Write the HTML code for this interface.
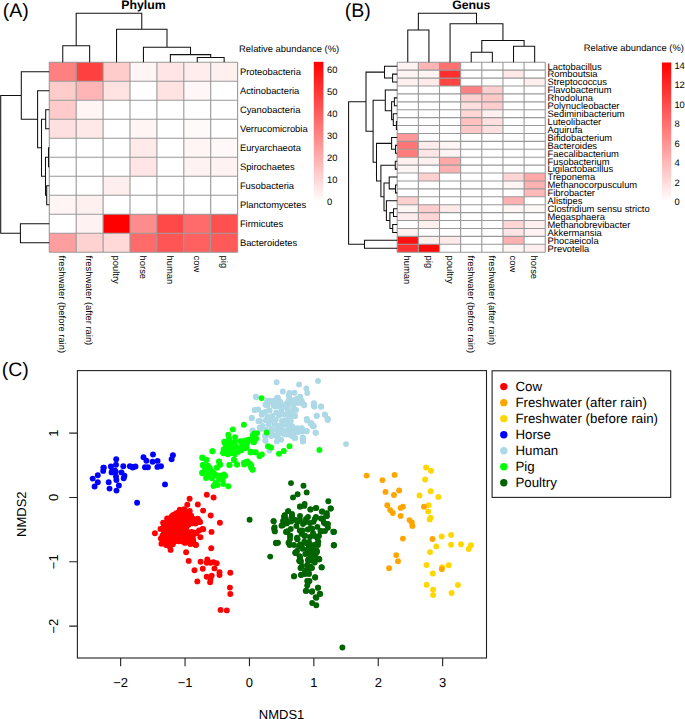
<!DOCTYPE html>
<html><head><meta charset="utf-8"><style>
html,body{margin:0;padding:0;background:#fff;width:685px;height:719px;overflow:hidden}
svg{display:block;text-rendering:geometricPrecision}
</style></head><body>
<svg width="685" height="719" viewBox="0 0 685 719"><g font-family='"Liberation Sans", sans-serif' fill="#000"><text x="2.7" y="16.9" font-size="19.5">(A)</text><text x="344.7" y="16.9" font-size="19.5">(B)</text><text x="1.8" y="375.6" font-size="19.5">(C)</text><text x="143.4" y="8.8" font-size="12.3" font-weight="bold" text-anchor="middle">Phylum</text><text x="471.3" y="8.8" font-size="12.3" font-weight="bold" text-anchor="middle">Genus</text><text x="239.1" y="51.9" font-size="9.38">Relative abundance (%)</text><text x="583.8" y="51.4" font-size="9.38">Relative abundance (%)</text><rect x="49.3" y="62.2" width="26.9" height="19" fill="#FF8080"/><rect x="76.2" y="62.2" width="26.9" height="19" fill="#FF4040"/><rect x="103.1" y="62.2" width="26.9" height="19" fill="#FFCCCC"/><rect x="130" y="62.2" width="26.9" height="19" fill="#FFF5F5"/><rect x="156.9" y="62.2" width="26.9" height="19" fill="#FFE5E5"/><rect x="183.8" y="62.2" width="26.9" height="19" fill="#FFEDED"/><rect x="210.7" y="62.2" width="26.9" height="19" fill="#FFF0F0"/><rect x="49.3" y="81.2" width="26.9" height="19" fill="#FFCCCC"/><rect x="76.2" y="81.2" width="26.9" height="19" fill="#FFB5B5"/><rect x="103.1" y="81.2" width="26.9" height="19" fill="#FFE2E2"/><rect x="130" y="81.2" width="26.9" height="19" fill="#FFFFFF"/><rect x="156.9" y="81.2" width="26.9" height="19" fill="#FFE2E2"/><rect x="183.8" y="81.2" width="26.9" height="19" fill="#FFF7F7"/><rect x="210.7" y="81.2" width="26.9" height="19" fill="#FFFFFF"/><rect x="49.3" y="100.2" width="26.9" height="19" fill="#FFCACA"/><rect x="76.2" y="100.2" width="26.9" height="19" fill="#FFF5F5"/><rect x="103.1" y="100.2" width="26.9" height="19" fill="#FFFFFF"/><rect x="130" y="100.2" width="26.9" height="19" fill="#FFFFFF"/><rect x="156.9" y="100.2" width="26.9" height="19" fill="#FFFFFF"/><rect x="183.8" y="100.2" width="26.9" height="19" fill="#FFFFFF"/><rect x="210.7" y="100.2" width="26.9" height="19" fill="#FFFFFF"/><rect x="49.3" y="119.2" width="26.9" height="19" fill="#FFE0E0"/><rect x="76.2" y="119.2" width="26.9" height="19" fill="#FFE8E8"/><rect x="103.1" y="119.2" width="26.9" height="19" fill="#FFFFFF"/><rect x="130" y="119.2" width="26.9" height="19" fill="#FFF5F5"/><rect x="156.9" y="119.2" width="26.9" height="19" fill="#FFFFFF"/><rect x="183.8" y="119.2" width="26.9" height="19" fill="#FFFAFA"/><rect x="210.7" y="119.2" width="26.9" height="19" fill="#FFFFFF"/><rect x="49.3" y="138.2" width="26.9" height="19" fill="#FFFFFF"/><rect x="76.2" y="138.2" width="26.9" height="19" fill="#FFFFFF"/><rect x="103.1" y="138.2" width="26.9" height="19" fill="#FFFFFF"/><rect x="130" y="138.2" width="26.9" height="19" fill="#FFEAEA"/><rect x="156.9" y="138.2" width="26.9" height="19" fill="#FFFFFF"/><rect x="183.8" y="138.2" width="26.9" height="19" fill="#FFF5F5"/><rect x="210.7" y="138.2" width="26.9" height="19" fill="#FFF8F8"/><rect x="49.3" y="157.2" width="26.9" height="19" fill="#FFFFFF"/><rect x="76.2" y="157.2" width="26.9" height="19" fill="#FFFFFF"/><rect x="103.1" y="157.2" width="26.9" height="19" fill="#FFFFFF"/><rect x="130" y="157.2" width="26.9" height="19" fill="#FFE5E5"/><rect x="156.9" y="157.2" width="26.9" height="19" fill="#FFFFFF"/><rect x="183.8" y="157.2" width="26.9" height="19" fill="#FFF2F2"/><rect x="210.7" y="157.2" width="26.9" height="19" fill="#FFF2F2"/><rect x="49.3" y="176.2" width="26.9" height="19" fill="#FFFFFF"/><rect x="76.2" y="176.2" width="26.9" height="19" fill="#FFFFFF"/><rect x="103.1" y="176.2" width="26.9" height="19" fill="#FFEEEE"/><rect x="130" y="176.2" width="26.9" height="19" fill="#FFFFFF"/><rect x="156.9" y="176.2" width="26.9" height="19" fill="#FFFFFF"/><rect x="183.8" y="176.2" width="26.9" height="19" fill="#FFFFFF"/><rect x="210.7" y="176.2" width="26.9" height="19" fill="#FFFFFF"/><rect x="49.3" y="195.2" width="26.9" height="19" fill="#FFF5F5"/><rect x="76.2" y="195.2" width="26.9" height="19" fill="#FFF0F0"/><rect x="103.1" y="195.2" width="26.9" height="19" fill="#FFFFFF"/><rect x="130" y="195.2" width="26.9" height="19" fill="#FFFFFF"/><rect x="156.9" y="195.2" width="26.9" height="19" fill="#FFFFFF"/><rect x="183.8" y="195.2" width="26.9" height="19" fill="#FFFFFF"/><rect x="210.7" y="195.2" width="26.9" height="19" fill="#FFFFFF"/><rect x="49.3" y="214.2" width="26.9" height="19" fill="#FFFFFF"/><rect x="76.2" y="214.2" width="26.9" height="19" fill="#FFF2F2"/><rect x="103.1" y="214.2" width="26.9" height="19" fill="#FF0000"/><rect x="130" y="214.2" width="26.9" height="19" fill="#FF8C8C"/><rect x="156.9" y="214.2" width="26.9" height="19" fill="#FF4848"/><rect x="183.8" y="214.2" width="26.9" height="19" fill="#FF6A6A"/><rect x="210.7" y="214.2" width="26.9" height="19" fill="#FF5050"/><rect x="49.3" y="233.2" width="26.9" height="19" fill="#FF9E9E"/><rect x="76.2" y="233.2" width="26.9" height="19" fill="#FFD2D2"/><rect x="103.1" y="233.2" width="26.9" height="19" fill="#FFD8D8"/><rect x="130" y="233.2" width="26.9" height="19" fill="#FF6A6A"/><rect x="156.9" y="233.2" width="26.9" height="19" fill="#FF5555"/><rect x="183.8" y="233.2" width="26.9" height="19" fill="#FF6060"/><rect x="210.7" y="233.2" width="26.9" height="19" fill="#FF5A5A"/><path d="M49.3 62.2H237.6M49.3 81.2H237.6M49.3 100.2H237.6M49.3 119.2H237.6M49.3 138.2H237.6M49.3 157.2H237.6M49.3 176.2H237.6M49.3 195.2H237.6M49.3 214.2H237.6M49.3 233.2H237.6M49.3 252.2H237.6M49.3 62.2V252.2M76.2 62.2V252.2M103.1 62.2V252.2M130 62.2V252.2M156.9 62.2V252.2M183.8 62.2V252.2M210.7 62.2V252.2M237.6 62.2V252.2" stroke="#999" stroke-width="1.1" fill="none"/><text x="239.9" y="75.06" font-size="9.38">Proteobacteria</text><text x="239.9" y="94.06" font-size="9.38">Actinobacteria</text><text x="239.9" y="113.06" font-size="9.38">Cyanobacteria</text><text x="239.9" y="132.06" font-size="9.38">Verrucomicrobia</text><text x="239.9" y="151.06" font-size="9.38">Euryarchaeota</text><text x="239.9" y="170.06" font-size="9.38">Spirochaetes</text><text x="239.9" y="189.06" font-size="9.38">Fusobacteria</text><text x="239.9" y="208.06" font-size="9.38">Planctomycetes</text><text x="239.9" y="227.06" font-size="9.38">Firmicutes</text><text x="239.9" y="246.06" font-size="9.38">Bacteroidetes</text><text transform="translate(59.39,255.6) rotate(90)" font-size="9.38">freshwater (before rain)</text><text transform="translate(86.29,255.6) rotate(90)" font-size="9.38">freshwater (after rain)</text><text transform="translate(113.19,255.6) rotate(90)" font-size="9.38">poultry</text><text transform="translate(140.09,255.6) rotate(90)" font-size="9.38">horse</text><text transform="translate(166.99,255.6) rotate(90)" font-size="9.38">human</text><text transform="translate(193.89,255.6) rotate(90)" font-size="9.38">cow</text><text transform="translate(220.79,255.6) rotate(90)" font-size="9.38">pig</text><rect x="397.2" y="62.25" width="21.15" height="7.92" fill="#FFF2F2"/><rect x="418.35" y="62.25" width="21.15" height="7.92" fill="#FFB5B5"/><rect x="439.5" y="62.25" width="21.15" height="7.92" fill="#FF7070"/><rect x="460.65" y="62.25" width="21.15" height="7.92" fill="#FFFFFF"/><rect x="481.8" y="62.25" width="21.15" height="7.92" fill="#FFFFFF"/><rect x="502.95" y="62.25" width="21.15" height="7.92" fill="#FFFFFF"/><rect x="524.1" y="62.25" width="21.15" height="7.92" fill="#FFFFFF"/><rect x="397.2" y="70.17" width="21.15" height="7.92" fill="#FFF5F5"/><rect x="418.35" y="70.17" width="21.15" height="7.92" fill="#FFF5F5"/><rect x="439.5" y="70.17" width="21.15" height="7.92" fill="#FF2E2E"/><rect x="460.65" y="70.17" width="21.15" height="7.92" fill="#FFFFFF"/><rect x="481.8" y="70.17" width="21.15" height="7.92" fill="#FFFFFF"/><rect x="502.95" y="70.17" width="21.15" height="7.92" fill="#FFE8E8"/><rect x="524.1" y="70.17" width="21.15" height="7.92" fill="#FFFFFF"/><rect x="397.2" y="78.08" width="21.15" height="7.92" fill="#FFF0F0"/><rect x="418.35" y="78.08" width="21.15" height="7.92" fill="#FFEAEA"/><rect x="439.5" y="78.08" width="21.15" height="7.92" fill="#FF4444"/><rect x="460.65" y="78.08" width="21.15" height="7.92" fill="#FFFFFF"/><rect x="481.8" y="78.08" width="21.15" height="7.92" fill="#FFFFFF"/><rect x="502.95" y="78.08" width="21.15" height="7.92" fill="#FFFFFF"/><rect x="524.1" y="78.08" width="21.15" height="7.92" fill="#FFEEEE"/><rect x="397.2" y="86" width="21.15" height="7.92" fill="#FFFFFF"/><rect x="418.35" y="86" width="21.15" height="7.92" fill="#FFFFFF"/><rect x="439.5" y="86" width="21.15" height="7.92" fill="#FFFFFF"/><rect x="460.65" y="86" width="21.15" height="7.92" fill="#FF8080"/><rect x="481.8" y="86" width="21.15" height="7.92" fill="#FFCFCF"/><rect x="502.95" y="86" width="21.15" height="7.92" fill="#FFFFFF"/><rect x="524.1" y="86" width="21.15" height="7.92" fill="#FFFFFF"/><rect x="397.2" y="93.91" width="21.15" height="7.92" fill="#FFFFFF"/><rect x="418.35" y="93.91" width="21.15" height="7.92" fill="#FFFFFF"/><rect x="439.5" y="93.91" width="21.15" height="7.92" fill="#FFFFFF"/><rect x="460.65" y="93.91" width="21.15" height="7.92" fill="#FFD0D0"/><rect x="481.8" y="93.91" width="21.15" height="7.92" fill="#FFC8C8"/><rect x="502.95" y="93.91" width="21.15" height="7.92" fill="#FFFFFF"/><rect x="524.1" y="93.91" width="21.15" height="7.92" fill="#FFFFFF"/><rect x="397.2" y="101.83" width="21.15" height="7.92" fill="#FFFFFF"/><rect x="418.35" y="101.83" width="21.15" height="7.92" fill="#FFFFFF"/><rect x="439.5" y="101.83" width="21.15" height="7.92" fill="#FFFFFF"/><rect x="460.65" y="101.83" width="21.15" height="7.92" fill="#FFE0E0"/><rect x="481.8" y="101.83" width="21.15" height="7.92" fill="#FFCDCD"/><rect x="502.95" y="101.83" width="21.15" height="7.92" fill="#FFFFFF"/><rect x="524.1" y="101.83" width="21.15" height="7.92" fill="#FFFFFF"/><rect x="397.2" y="109.74" width="21.15" height="7.92" fill="#FFFFFF"/><rect x="418.35" y="109.74" width="21.15" height="7.92" fill="#FFFFFF"/><rect x="439.5" y="109.74" width="21.15" height="7.92" fill="#FFFFFF"/><rect x="460.65" y="109.74" width="21.15" height="7.92" fill="#FFD5D5"/><rect x="481.8" y="109.74" width="21.15" height="7.92" fill="#FFF0F0"/><rect x="502.95" y="109.74" width="21.15" height="7.92" fill="#FFFFFF"/><rect x="524.1" y="109.74" width="21.15" height="7.92" fill="#FFFFFF"/><rect x="397.2" y="117.66" width="21.15" height="7.92" fill="#FFFFFF"/><rect x="418.35" y="117.66" width="21.15" height="7.92" fill="#FFFFFF"/><rect x="439.5" y="117.66" width="21.15" height="7.92" fill="#FFFFFF"/><rect x="460.65" y="117.66" width="21.15" height="7.92" fill="#FFC0C0"/><rect x="481.8" y="117.66" width="21.15" height="7.92" fill="#FFE0E0"/><rect x="502.95" y="117.66" width="21.15" height="7.92" fill="#FFFFFF"/><rect x="524.1" y="117.66" width="21.15" height="7.92" fill="#FFFFFF"/><rect x="397.2" y="125.57" width="21.15" height="7.92" fill="#FFFFFF"/><rect x="418.35" y="125.57" width="21.15" height="7.92" fill="#FFFFFF"/><rect x="439.5" y="125.57" width="21.15" height="7.92" fill="#FFFFFF"/><rect x="460.65" y="125.57" width="21.15" height="7.92" fill="#FFC8C8"/><rect x="481.8" y="125.57" width="21.15" height="7.92" fill="#FFE0E0"/><rect x="502.95" y="125.57" width="21.15" height="7.92" fill="#FFFFFF"/><rect x="524.1" y="125.57" width="21.15" height="7.92" fill="#FFFFFF"/><rect x="397.2" y="133.49" width="21.15" height="7.92" fill="#FF9898"/><rect x="418.35" y="133.49" width="21.15" height="7.92" fill="#FFFFFF"/><rect x="439.5" y="133.49" width="21.15" height="7.92" fill="#FFFFFF"/><rect x="460.65" y="133.49" width="21.15" height="7.92" fill="#FFFFFF"/><rect x="481.8" y="133.49" width="21.15" height="7.92" fill="#FFFFFF"/><rect x="502.95" y="133.49" width="21.15" height="7.92" fill="#FFFFFF"/><rect x="524.1" y="133.49" width="21.15" height="7.92" fill="#FFFFFF"/><rect x="397.2" y="141.4" width="21.15" height="7.92" fill="#FF7575"/><rect x="418.35" y="141.4" width="21.15" height="7.92" fill="#FFECEC"/><rect x="439.5" y="141.4" width="21.15" height="7.92" fill="#FFF5F5"/><rect x="460.65" y="141.4" width="21.15" height="7.92" fill="#FFFFFF"/><rect x="481.8" y="141.4" width="21.15" height="7.92" fill="#FFFFFF"/><rect x="502.95" y="141.4" width="21.15" height="7.92" fill="#FFFFFF"/><rect x="524.1" y="141.4" width="21.15" height="7.92" fill="#FFFFFF"/><rect x="397.2" y="149.31" width="21.15" height="7.92" fill="#FF7A7A"/><rect x="418.35" y="149.31" width="21.15" height="7.92" fill="#FFE5E5"/><rect x="439.5" y="149.31" width="21.15" height="7.92" fill="#FFF5F5"/><rect x="460.65" y="149.31" width="21.15" height="7.92" fill="#FFFFFF"/><rect x="481.8" y="149.31" width="21.15" height="7.92" fill="#FFFFFF"/><rect x="502.95" y="149.31" width="21.15" height="7.92" fill="#FFFFFF"/><rect x="524.1" y="149.31" width="21.15" height="7.92" fill="#FFFFFF"/><rect x="397.2" y="157.23" width="21.15" height="7.92" fill="#FFF0F0"/><rect x="418.35" y="157.23" width="21.15" height="7.92" fill="#FFF0F0"/><rect x="439.5" y="157.23" width="21.15" height="7.92" fill="#FFA8A8"/><rect x="460.65" y="157.23" width="21.15" height="7.92" fill="#FFFFFF"/><rect x="481.8" y="157.23" width="21.15" height="7.92" fill="#FFFFFF"/><rect x="502.95" y="157.23" width="21.15" height="7.92" fill="#FFFFFF"/><rect x="524.1" y="157.23" width="21.15" height="7.92" fill="#FFFFFF"/><rect x="397.2" y="165.14" width="21.15" height="7.92" fill="#FFF5F5"/><rect x="418.35" y="165.14" width="21.15" height="7.92" fill="#FFFFFF"/><rect x="439.5" y="165.14" width="21.15" height="7.92" fill="#FFB0B0"/><rect x="460.65" y="165.14" width="21.15" height="7.92" fill="#FFFFFF"/><rect x="481.8" y="165.14" width="21.15" height="7.92" fill="#FFFFFF"/><rect x="502.95" y="165.14" width="21.15" height="7.92" fill="#FFFFFF"/><rect x="524.1" y="165.14" width="21.15" height="7.92" fill="#FFFFFF"/><rect x="397.2" y="173.06" width="21.15" height="7.92" fill="#FFFFFF"/><rect x="418.35" y="173.06" width="21.15" height="7.92" fill="#FFD0D0"/><rect x="439.5" y="173.06" width="21.15" height="7.92" fill="#FFFFFF"/><rect x="460.65" y="173.06" width="21.15" height="7.92" fill="#FFFFFF"/><rect x="481.8" y="173.06" width="21.15" height="7.92" fill="#FFFFFF"/><rect x="502.95" y="173.06" width="21.15" height="7.92" fill="#FFD5D5"/><rect x="524.1" y="173.06" width="21.15" height="7.92" fill="#FFA8A8"/><rect x="397.2" y="180.97" width="21.15" height="7.92" fill="#FFFFFF"/><rect x="418.35" y="180.97" width="21.15" height="7.92" fill="#FFFFFF"/><rect x="439.5" y="180.97" width="21.15" height="7.92" fill="#FFFFFF"/><rect x="460.65" y="180.97" width="21.15" height="7.92" fill="#FFFFFF"/><rect x="481.8" y="180.97" width="21.15" height="7.92" fill="#FFFFFF"/><rect x="502.95" y="180.97" width="21.15" height="7.92" fill="#FFF5F5"/><rect x="524.1" y="180.97" width="21.15" height="7.92" fill="#FFB0B0"/><rect x="397.2" y="188.89" width="21.15" height="7.92" fill="#FFFFFF"/><rect x="418.35" y="188.89" width="21.15" height="7.92" fill="#FFFFFF"/><rect x="439.5" y="188.89" width="21.15" height="7.92" fill="#FFFFFF"/><rect x="460.65" y="188.89" width="21.15" height="7.92" fill="#FFFFFF"/><rect x="481.8" y="188.89" width="21.15" height="7.92" fill="#FFFFFF"/><rect x="502.95" y="188.89" width="21.15" height="7.92" fill="#FFFFFF"/><rect x="524.1" y="188.89" width="21.15" height="7.92" fill="#FFB8B8"/><rect x="397.2" y="196.81" width="21.15" height="7.92" fill="#FFD0D0"/><rect x="418.35" y="196.81" width="21.15" height="7.92" fill="#FFFFFF"/><rect x="439.5" y="196.81" width="21.15" height="7.92" fill="#FFFFFF"/><rect x="460.65" y="196.81" width="21.15" height="7.92" fill="#FFFFFF"/><rect x="481.8" y="196.81" width="21.15" height="7.92" fill="#FFFFFF"/><rect x="502.95" y="196.81" width="21.15" height="7.92" fill="#FFB0B0"/><rect x="524.1" y="196.81" width="21.15" height="7.92" fill="#FFFFFF"/><rect x="397.2" y="204.72" width="21.15" height="7.92" fill="#FFF5F5"/><rect x="418.35" y="204.72" width="21.15" height="7.92" fill="#FFCDCD"/><rect x="439.5" y="204.72" width="21.15" height="7.92" fill="#FFEAEA"/><rect x="460.65" y="204.72" width="21.15" height="7.92" fill="#FFFFFF"/><rect x="481.8" y="204.72" width="21.15" height="7.92" fill="#FFFFFF"/><rect x="502.95" y="204.72" width="21.15" height="7.92" fill="#FFF5F5"/><rect x="524.1" y="204.72" width="21.15" height="7.92" fill="#FFF8F8"/><rect x="397.2" y="212.63" width="21.15" height="7.92" fill="#FFEDED"/><rect x="418.35" y="212.63" width="21.15" height="7.92" fill="#FFD5D5"/><rect x="439.5" y="212.63" width="21.15" height="7.92" fill="#FFFFFF"/><rect x="460.65" y="212.63" width="21.15" height="7.92" fill="#FFFFFF"/><rect x="481.8" y="212.63" width="21.15" height="7.92" fill="#FFFFFF"/><rect x="502.95" y="212.63" width="21.15" height="7.92" fill="#FFFFFF"/><rect x="524.1" y="212.63" width="21.15" height="7.92" fill="#FFFFFF"/><rect x="397.2" y="220.55" width="21.15" height="7.92" fill="#FFFFFF"/><rect x="418.35" y="220.55" width="21.15" height="7.92" fill="#FFF0F0"/><rect x="439.5" y="220.55" width="21.15" height="7.92" fill="#FFFFFF"/><rect x="460.65" y="220.55" width="21.15" height="7.92" fill="#FFFFFF"/><rect x="481.8" y="220.55" width="21.15" height="7.92" fill="#FFFFFF"/><rect x="502.95" y="220.55" width="21.15" height="7.92" fill="#FFD5D5"/><rect x="524.1" y="220.55" width="21.15" height="7.92" fill="#FFF0F0"/><rect x="397.2" y="228.47" width="21.15" height="7.92" fill="#FFF0F0"/><rect x="418.35" y="228.47" width="21.15" height="7.92" fill="#FFFFFF"/><rect x="439.5" y="228.47" width="21.15" height="7.92" fill="#FFFFFF"/><rect x="460.65" y="228.47" width="21.15" height="7.92" fill="#FFFFFF"/><rect x="481.8" y="228.47" width="21.15" height="7.92" fill="#FFFFFF"/><rect x="502.95" y="228.47" width="21.15" height="7.92" fill="#FFE5E5"/><rect x="524.1" y="228.47" width="21.15" height="7.92" fill="#FFF2F2"/><rect x="397.2" y="236.38" width="21.15" height="7.92" fill="#FF1010"/><rect x="418.35" y="236.38" width="21.15" height="7.92" fill="#FFF0F0"/><rect x="439.5" y="236.38" width="21.15" height="7.92" fill="#FFEAEA"/><rect x="460.65" y="236.38" width="21.15" height="7.92" fill="#FFFFFF"/><rect x="481.8" y="236.38" width="21.15" height="7.92" fill="#FFFFFF"/><rect x="502.95" y="236.38" width="21.15" height="7.92" fill="#FFB0B0"/><rect x="524.1" y="236.38" width="21.15" height="7.92" fill="#FFFFFF"/><rect x="397.2" y="244.29" width="21.15" height="7.92" fill="#FF3030"/><rect x="418.35" y="244.29" width="21.15" height="7.92" fill="#FF0808"/><rect x="439.5" y="244.29" width="21.15" height="7.92" fill="#FFFFFF"/><rect x="460.65" y="244.29" width="21.15" height="7.92" fill="#FFFFFF"/><rect x="481.8" y="244.29" width="21.15" height="7.92" fill="#FFFFFF"/><rect x="502.95" y="244.29" width="21.15" height="7.92" fill="#FFF5F5"/><rect x="524.1" y="244.29" width="21.15" height="7.92" fill="#FFEEEE"/><path d="M397.2 62.25H545.25M397.2 70.17H545.25M397.2 78.08H545.25M397.2 86H545.25M397.2 93.91H545.25M397.2 101.83H545.25M397.2 109.74H545.25M397.2 117.66H545.25M397.2 125.57H545.25M397.2 133.49H545.25M397.2 141.4H545.25M397.2 149.31H545.25M397.2 157.23H545.25M397.2 165.14H545.25M397.2 173.06H545.25M397.2 180.97H545.25M397.2 188.89H545.25M397.2 196.81H545.25M397.2 204.72H545.25M397.2 212.63H545.25M397.2 220.55H545.25M397.2 228.47H545.25M397.2 236.38H545.25M397.2 244.29H545.25M397.2 252.21H545.25M397.2 62.25V252.21M418.35 62.25V252.21M439.5 62.25V252.21M460.65 62.25V252.21M481.8 62.25V252.21M502.95 62.25V252.21M524.1 62.25V252.21M545.25 62.25V252.21" stroke="#999" stroke-width="1.1" fill="none"/><text x="547.55" y="69.57" font-size="9.38">Lactobacillus</text><text x="547.55" y="77.48" font-size="9.38">Romboutsia</text><text x="547.55" y="85.4" font-size="9.38">Streptococcus</text><text x="547.55" y="93.31" font-size="9.38">Flavobacterium</text><text x="547.55" y="101.23" font-size="9.38">Rhodoluna</text><text x="547.55" y="109.14" font-size="9.38">Polynucleobacter</text><text x="547.55" y="117.06" font-size="9.38">Sediminibacterium</text><text x="547.55" y="124.97" font-size="9.38">Luteolibacter</text><text x="547.55" y="132.89" font-size="9.38">Aquirufa</text><text x="547.55" y="140.8" font-size="9.38">Bifidobacterium</text><text x="547.55" y="148.72" font-size="9.38">Bacteroides</text><text x="547.55" y="156.63" font-size="9.38">Faecalibacterium</text><text x="547.55" y="164.55" font-size="9.38">Fusobacterium</text><text x="547.55" y="172.46" font-size="9.38">Ligilactobacillus</text><text x="547.55" y="180.38" font-size="9.38">Treponema</text><text x="547.55" y="188.29" font-size="9.38">Methanocorpusculum</text><text x="547.55" y="196.21" font-size="9.38">Fibrobacter</text><text x="547.55" y="204.12" font-size="9.38">Alistipes</text><text x="547.55" y="212.04" font-size="9.38">Clostridium sensu stricto</text><text x="547.55" y="219.95" font-size="9.38">Megasphaera</text><text x="547.55" y="227.87" font-size="9.38">Methanobrevibacter</text><text x="547.55" y="235.78" font-size="9.38">Akkermansia</text><text x="547.55" y="243.7" font-size="9.38">Phocaeicola</text><text x="547.55" y="251.61" font-size="9.38">Prevotella</text><text transform="translate(404.42,255.61) rotate(90)" font-size="9.38">human</text><text transform="translate(425.57,255.61) rotate(90)" font-size="9.38">pig</text><text transform="translate(446.72,255.61) rotate(90)" font-size="9.38">poultry</text><text transform="translate(467.87,255.61) rotate(90)" font-size="9.38">freshwater (before rain)</text><text transform="translate(489.02,255.61) rotate(90)" font-size="9.38">freshwater (after rain)</text><text transform="translate(510.17,255.61) rotate(90)" font-size="9.38">cow</text><text transform="translate(531.32,255.61) rotate(90)" font-size="9.38">horse</text><defs><linearGradient id="g313" x1="0" y1="1" x2="0" y2="0"><stop offset="0" stop-color="#fff"/><stop offset="1" stop-color="#f00"/></linearGradient></defs><rect x="313.8" y="61.8" width="9.6" height="140.2" fill="url(#g313)"/><text x="327" y="205.36" font-size="9.38">0</text><text x="327" y="183.36" font-size="9.38">10</text><text x="327" y="161.36" font-size="9.38">20</text><text x="327" y="139.36" font-size="9.38">30</text><text x="327" y="117.36" font-size="9.38">40</text><text x="327" y="95.36" font-size="9.38">50</text><text x="327" y="73.36" font-size="9.38">60</text><defs><linearGradient id="g662" x1="0" y1="1" x2="0" y2="0"><stop offset="0" stop-color="#fff"/><stop offset="1" stop-color="#f00"/></linearGradient></defs><rect x="662" y="62.5" width="9.2" height="139.1" fill="url(#g662)"/><text x="674.4" y="204.96" font-size="9.38">0</text><text x="674.4" y="185.54" font-size="9.38">2</text><text x="674.4" y="166.12" font-size="9.38">4</text><text x="674.4" y="146.7" font-size="9.38">6</text><text x="674.4" y="127.28" font-size="9.38">8</text><text x="674.4" y="107.86" font-size="9.38">10</text><text x="674.4" y="88.44" font-size="9.38">12</text><text x="674.4" y="69.02" font-size="9.38">14</text><path d="M49.3 147.7H48.5V166.7H49.3M49.3 185.7H46.7V204.7H49.3M49.3 109.7H45.7V128.7H49.3M48.5 157.2H45.5V195.2H46.7M45.7 119.2H41.5V176.2H45.5M49.3 90.7H37.6V147.7H41.5M49.3 71.7H21.3V119.2H37.6M49.3 223.7H20.4V242.7H49.3M21.3 95.45H0.7V233.2H20.4M197.25 62.2V57.5H224.15V62.2M170.35 62.2V54.6H210.7V57.5M143.45 62.2V47.3H190.52V54.6M116.55 62.2V29.2H166.99V47.3M62.75 62.2V45.8H89.65V62.2M76.2 45.8V13.3H141.77V29.2M397.2 74.12H392.6V82.04H397.2M397.2 66.21H384.5V78.08H392.6M397.2 97.87H394.4V105.78H397.2M397.2 121.61H396.4V129.53H397.2M397.2 113.7H393.3V125.57H396.4M394.4 101.83H391.6V119.63H393.3M397.2 89.95H385.3V110.73H391.6M397.2 145.36H395.5V153.27H397.2M397.2 137.44H391.6V149.31H395.5M397.2 161.19H395.3V169.1H397.2M397.2 184.93H395.5V192.85H397.2M397.2 177.02H389.2V188.89H395.5M397.2 208.68H393.5V216.59H397.2M397.2 224.51H392.7V232.42H397.2M393.5 212.63H389.9V228.47H392.7M397.2 200.76H386.4V220.55H389.9M389.2 182.95H384V210.66H386.4M395.3 165.15H380.9V196.81H384M391.6 143.38H376.5V180.98H380.9M385.3 100.34H373.1V162.18H376.5M384.5 72.14H366V131.26H373.1M397.2 240.34H364.5V248.25H397.2M366 101.7H348.6V244.3H364.5M407.77 62.25V29.9H428.93V62.25M471.22 62.25V52.3H492.38V62.25M513.52 62.25V46.3H534.67V62.25M481.8 52.3V40.4H524.1V46.3M450.07 62.25V23.8H502.95V40.4M418.35 29.9V13.3H476.51V23.8" stroke="#111" stroke-width="1.05" fill="none"/><rect x="77.4" y="370.6" width="409.1" height="287.4" fill="none" stroke="#222" stroke-width="1.1"/><path d="M120.65 658.0V666.2M185.05 658.0V666.2M249.45 658.0V666.2M313.85 658.0V666.2M378.25 658.0V666.2M442.65 658.0V666.2M77.4 626.11H69.2M77.4 561.78H69.2M77.4 497.45H69.2M77.4 433.12H69.2" stroke="#222" stroke-width="1.1" fill="none"/><text x="120.65" y="687.2" font-size="13" text-anchor="middle">−2</text><text x="185.05" y="687.2" font-size="13" text-anchor="middle">−1</text><text x="249.45" y="687.2" font-size="13" text-anchor="middle">0</text><text x="313.85" y="687.2" font-size="13" text-anchor="middle">1</text><text x="378.25" y="687.2" font-size="13" text-anchor="middle">2</text><text x="442.65" y="687.2" font-size="13" text-anchor="middle">3</text><text transform="translate(58.2,626.11) rotate(-90)" font-size="13" text-anchor="middle">−2</text><text transform="translate(58.2,561.78) rotate(-90)" font-size="13" text-anchor="middle">−1</text><text transform="translate(58.2,497.45) rotate(-90)" font-size="13" text-anchor="middle">0</text><text transform="translate(58.2,433.12) rotate(-90)" font-size="13" text-anchor="middle">1</text><text x="281.6" y="718.9" font-size="13" text-anchor="middle">NMDS1</text><text transform="translate(26.2,514.2) rotate(-90)" font-size="13" text-anchor="middle">NMDS2</text><g fill="#ADD8E6"><circle cx="267.49" cy="405.68" r="2.95"/><circle cx="273.64" cy="405.48" r="2.95"/><circle cx="278.64" cy="406.24" r="2.95"/><circle cx="282.7" cy="406.61" r="2.95"/><circle cx="287.95" cy="406.42" r="2.95"/><circle cx="293.33" cy="405.53" r="2.95"/><circle cx="265.1" cy="412.03" r="2.95"/><circle cx="269.62" cy="410.46" r="2.95"/><circle cx="276.23" cy="412.34" r="2.95"/><circle cx="281.4" cy="410.91" r="2.95"/><circle cx="287.74" cy="410" r="2.95"/><circle cx="292.73" cy="410.63" r="2.95"/><circle cx="261.73" cy="414.78" r="2.95"/><circle cx="267.45" cy="416.59" r="2.95"/><circle cx="272.42" cy="415.98" r="2.95"/><circle cx="278.91" cy="415.44" r="2.95"/><circle cx="283.97" cy="414.63" r="2.95"/><circle cx="288" cy="415" r="2.95"/><circle cx="265.77" cy="420.17" r="2.95"/><circle cx="270.12" cy="420.58" r="2.95"/><circle cx="275.78" cy="419.84" r="2.95"/><circle cx="281.97" cy="420.88" r="2.95"/><circle cx="285.83" cy="420.55" r="2.95"/><circle cx="262.72" cy="425.92" r="2.95"/><circle cx="268.55" cy="424.4" r="2.95"/><circle cx="274.5" cy="423.96" r="2.95"/><circle cx="278.34" cy="425.62" r="2.95"/><circle cx="282.95" cy="424.92" r="2.95"/><circle cx="287.95" cy="425.39" r="2.95"/><circle cx="265.99" cy="429.73" r="2.95"/><circle cx="271.58" cy="429.05" r="2.95"/><circle cx="276.41" cy="429.78" r="2.95"/><circle cx="281.41" cy="429.42" r="2.95"/><circle cx="287.38" cy="430.69" r="2.95"/><circle cx="291.73" cy="429.97" r="2.95"/><circle cx="266.81" cy="434.65" r="2.95"/><circle cx="273.63" cy="435.41" r="2.95"/><circle cx="279.39" cy="433.57" r="2.95"/><circle cx="288.85" cy="434.57" r="2.95"/><circle cx="293.21" cy="434.03" r="2.95"/><circle cx="266" cy="405" r="2.95"/><circle cx="272" cy="402" r="2.95"/><circle cx="280" cy="403" r="2.95"/><circle cx="286" cy="404" r="2.95"/><circle cx="292" cy="402" r="2.95"/><circle cx="298" cy="403" r="2.95"/><circle cx="296" cy="410" r="2.95"/><circle cx="292" cy="416" r="2.95"/><circle cx="289" cy="422" r="2.95"/><circle cx="292" cy="428" r="2.95"/><circle cx="298" cy="432" r="2.95"/><circle cx="292" cy="436" r="2.95"/><circle cx="284" cy="434" r="2.95"/><circle cx="278" cy="438" r="2.95"/><circle cx="271" cy="436" r="2.95"/><circle cx="265" cy="436" r="2.95"/><circle cx="261" cy="429" r="2.95"/><circle cx="260" cy="421" r="2.95"/><circle cx="262" cy="413" r="2.95"/><circle cx="276.6" cy="382.3" r="2.95"/><circle cx="299.1" cy="384.5" r="2.95"/><circle cx="318" cy="381" r="2.95"/><circle cx="306.3" cy="388.4" r="2.95"/><circle cx="307.3" cy="393" r="2.95"/><circle cx="282.8" cy="391.5" r="2.95"/><circle cx="289.4" cy="393" r="2.95"/><circle cx="294.5" cy="392.7" r="2.95"/><circle cx="288.9" cy="395.5" r="2.95"/><circle cx="277.7" cy="398.6" r="2.95"/><circle cx="274.1" cy="400.7" r="2.95"/><circle cx="280.2" cy="401.7" r="2.95"/><circle cx="288.9" cy="401.2" r="2.95"/><circle cx="292.5" cy="400.1" r="2.95"/><circle cx="297.1" cy="398.6" r="2.95"/><circle cx="300.1" cy="396.6" r="2.95"/><circle cx="301.7" cy="400.7" r="2.95"/><circle cx="302.7" cy="403.7" r="2.95"/><circle cx="304.2" cy="405.3" r="2.95"/><circle cx="313.9" cy="403.2" r="2.95"/><circle cx="313.9" cy="406.3" r="2.95"/><circle cx="321.1" cy="406.8" r="2.95"/><circle cx="316.8" cy="415.8" r="2.95"/><circle cx="325.2" cy="415" r="2.95"/><circle cx="327.7" cy="419" r="2.95"/><circle cx="306.8" cy="419" r="2.95"/><circle cx="310.9" cy="423.1" r="2.95"/><circle cx="313.4" cy="425.7" r="2.95"/><circle cx="315.5" cy="432.8" r="2.95"/><circle cx="306.8" cy="431.3" r="2.95"/><circle cx="302.7" cy="437.4" r="2.95"/><circle cx="291.5" cy="412.9" r="2.95"/><circle cx="295" cy="416" r="2.95"/><circle cx="290.4" cy="420.1" r="2.95"/><circle cx="289.4" cy="422.1" r="2.95"/><circle cx="270" cy="400.7" r="2.95"/><circle cx="297.6" cy="428.2" r="2.95"/><circle cx="301.7" cy="428.2" r="2.95"/><circle cx="294.5" cy="431.3" r="2.95"/><circle cx="285.3" cy="431.3" r="2.95"/><circle cx="278.2" cy="433.4" r="2.95"/><circle cx="256.1" cy="397" r="2.95"/><circle cx="268.5" cy="400.7" r="2.95"/><circle cx="266.3" cy="404.3" r="2.95"/><circle cx="277.2" cy="397.7" r="2.95"/><circle cx="278.7" cy="401.4" r="2.95"/><circle cx="275" cy="400.7" r="2.95"/><circle cx="289.6" cy="401.4" r="2.95"/><circle cx="295.5" cy="399.9" r="2.95"/><circle cx="299.9" cy="397" r="2.95"/><circle cx="301.3" cy="401.4" r="2.95"/><circle cx="304.2" cy="405" r="2.95"/><circle cx="313.7" cy="403.6" r="2.95"/><circle cx="314.5" cy="406.5" r="2.95"/><circle cx="321" cy="406.5" r="2.95"/><circle cx="324.7" cy="414.5" r="2.95"/><circle cx="327.6" cy="418.9" r="2.95"/><circle cx="316.6" cy="416" r="2.95"/><circle cx="307.2" cy="419.6" r="2.95"/><circle cx="311.5" cy="423.3" r="2.95"/><circle cx="313.7" cy="426.2" r="2.95"/><circle cx="306.4" cy="431.3" r="2.95"/><circle cx="315.9" cy="432.8" r="2.95"/><circle cx="302.8" cy="437.9" r="2.95"/><circle cx="302.8" cy="441.5" r="2.95"/><circle cx="294.7" cy="437.9" r="2.95"/><circle cx="265.5" cy="440.8" r="2.95"/><circle cx="252.4" cy="430.6" r="2.95"/><circle cx="251.7" cy="418.2" r="2.95"/><circle cx="254.6" cy="410.1" r="2.95"/><circle cx="258.2" cy="409.4" r="2.95"/><circle cx="346" cy="444.1" r="2.95"/><circle cx="301.8" cy="428.3" r="2.95"/><circle cx="301.8" cy="431.4" r="2.95"/><circle cx="303.1" cy="438.4" r="2.95"/><circle cx="303.1" cy="441" r="2.95"/><circle cx="312.7" cy="426.1" r="2.95"/><circle cx="310.5" cy="423.5" r="2.95"/><circle cx="307" cy="420.4" r="2.95"/><circle cx="255.8" cy="396.8" r="2.95"/><circle cx="267.1" cy="400.7" r="2.95"/><circle cx="265.4" cy="404.6" r="2.95"/><circle cx="254.9" cy="409.9" r="2.95"/><circle cx="251.8" cy="417.8" r="2.95"/><circle cx="258.4" cy="421.3" r="2.95"/><circle cx="259.7" cy="427.8" r="2.95"/><circle cx="252.7" cy="430.5" r="2.95"/><circle cx="265.4" cy="440.1" r="2.95"/><circle cx="269.3" cy="450.6" r="2.95"/><circle cx="271.5" cy="433.5" r="2.95"/><circle cx="276.8" cy="441.4" r="2.95"/><circle cx="281.2" cy="439.7" r="2.95"/><circle cx="285.5" cy="434.4" r="2.95"/><circle cx="295.2" cy="437.9" r="2.95"/><circle cx="297.8" cy="431.8" r="2.95"/><circle cx="292.5" cy="426.5" r="2.95"/><circle cx="290.8" cy="421.3" r="2.95"/><circle cx="295.2" cy="416" r="2.95"/><circle cx="291.7" cy="412.5" r="2.95"/><circle cx="288.2" cy="401.1" r="2.95"/><circle cx="297.8" cy="400.3" r="2.95"/><circle cx="289" cy="395.9" r="2.95"/><circle cx="277.7" cy="397.6" r="2.95"/><circle cx="280.3" cy="402.9" r="2.95"/><circle cx="275" cy="406.4" r="2.95"/><circle cx="282.9" cy="407.3" r="2.95"/><circle cx="327.8" cy="420" r="2.95"/></g><g fill="#00FF00"><circle cx="212.5" cy="451.2" r="2.95"/><circle cx="202.3" cy="457.4" r="2.95"/><circle cx="206.3" cy="459.9" r="2.95"/><circle cx="202.8" cy="465" r="2.95"/><circle cx="207.4" cy="466.6" r="2.95"/><circle cx="219.1" cy="461.5" r="2.95"/><circle cx="220.1" cy="464.5" r="2.95"/><circle cx="217.1" cy="467.6" r="2.95"/><circle cx="202.8" cy="473.2" r="2.95"/><circle cx="208.4" cy="472.7" r="2.95"/><circle cx="212.5" cy="471.7" r="2.95"/><circle cx="208.4" cy="476.8" r="2.95"/><circle cx="212" cy="478.3" r="2.95"/><circle cx="216.6" cy="475.3" r="2.95"/><circle cx="220.7" cy="475.8" r="2.95"/><circle cx="225.3" cy="475.8" r="2.95"/><circle cx="222.7" cy="479.9" r="2.95"/><circle cx="215.5" cy="482.9" r="2.95"/><circle cx="213.5" cy="486" r="2.95"/><circle cx="217.6" cy="485" r="2.95"/><circle cx="223.2" cy="483.9" r="2.95"/><circle cx="228.3" cy="486.2" r="2.95"/><circle cx="229.3" cy="465" r="2.95"/><circle cx="237" cy="464.5" r="2.95"/><circle cx="245.2" cy="462.5" r="2.95"/><circle cx="249.3" cy="463.5" r="2.95"/><circle cx="251.3" cy="465.5" r="2.95"/><circle cx="252.8" cy="469.6" r="2.95"/><circle cx="244.2" cy="464.5" r="2.95"/><circle cx="233.9" cy="459.9" r="2.95"/><circle cx="223.7" cy="453.3" r="2.95"/><circle cx="227.8" cy="454.3" r="2.95"/><circle cx="231.9" cy="453.3" r="2.95"/><circle cx="235" cy="454.3" r="2.95"/><circle cx="223.7" cy="449.2" r="2.95"/><circle cx="228.8" cy="449.2" r="2.95"/><circle cx="232.9" cy="449.2" r="2.95"/><circle cx="224.7" cy="443.1" r="2.95"/><circle cx="230.9" cy="444.1" r="2.95"/><circle cx="235" cy="442" r="2.95"/><circle cx="241.1" cy="450.2" r="2.95"/><circle cx="245.2" cy="448.2" r="2.95"/><circle cx="242.1" cy="444.1" r="2.95"/><circle cx="247.2" cy="443.1" r="2.95"/><circle cx="253.4" cy="442" r="2.95"/><circle cx="251.3" cy="452.3" r="2.95"/><circle cx="255.4" cy="452.3" r="2.95"/><circle cx="259.5" cy="456.3" r="2.95"/><circle cx="243.9" cy="424.8" r="2.95"/><circle cx="232.8" cy="429.4" r="2.95"/><circle cx="228.3" cy="434.7" r="2.95"/><circle cx="235.1" cy="437.3" r="2.95"/><circle cx="224.3" cy="441.7" r="2.95"/><circle cx="230" cy="441.3" r="2.95"/><circle cx="226.5" cy="446.5" r="2.95"/><circle cx="231.8" cy="444.8" r="2.95"/><circle cx="223" cy="452.7" r="2.95"/><circle cx="228.3" cy="453.5" r="2.95"/><circle cx="233.5" cy="451.8" r="2.95"/><circle cx="240.5" cy="441.3" r="2.95"/><circle cx="244.9" cy="444.8" r="2.95"/><circle cx="241.4" cy="450" r="2.95"/><circle cx="246.7" cy="447.4" r="2.95"/><circle cx="247.5" cy="440.4" r="2.95"/><circle cx="252.8" cy="435.1" r="2.95"/><circle cx="253.2" cy="441.3" r="2.95"/><circle cx="251" cy="451.8" r="2.95"/><circle cx="212.5" cy="451.3" r="2.95"/><circle cx="202.4" cy="457.9" r="2.95"/><circle cx="206.4" cy="459.7" r="2.95"/><circle cx="202.9" cy="465.3" r="2.95"/><circle cx="208.1" cy="465.8" r="2.95"/><circle cx="219.1" cy="461.8" r="2.95"/><circle cx="220" cy="464.9" r="2.95"/><circle cx="216.9" cy="467.5" r="2.95"/><circle cx="229.6" cy="464.9" r="2.95"/><circle cx="234" cy="459.7" r="2.95"/><circle cx="237" cy="464.5" r="2.95"/><circle cx="244" cy="462.7" r="2.95"/><circle cx="247.5" cy="461.4" r="2.95"/><circle cx="250.2" cy="464" r="2.95"/><circle cx="251" cy="467.5" r="2.95"/><circle cx="252.4" cy="469.7" r="2.95"/><circle cx="202" cy="472.8" r="2.95"/><circle cx="210.8" cy="471" r="2.95"/><circle cx="214.3" cy="473.7" r="2.95"/><circle cx="223.9" cy="474.5" r="2.95"/><circle cx="261.5" cy="398.1" r="2.95"/><circle cx="266.7" cy="432.5" r="2.95"/><circle cx="254.4" cy="433.5" r="2.95"/><circle cx="257.1" cy="433.1" r="2.95"/><circle cx="253.1" cy="437" r="2.95"/><circle cx="256.2" cy="438.8" r="2.95"/><circle cx="248.8" cy="439.7" r="2.95"/><circle cx="245.3" cy="440.5" r="2.95"/><circle cx="241.8" cy="441.4" r="2.95"/><circle cx="254" cy="442.3" r="2.95"/><circle cx="245.3" cy="446.7" r="2.95"/><circle cx="242.6" cy="447.5" r="2.95"/><circle cx="268" cy="446.2" r="2.95"/><circle cx="271.1" cy="447.5" r="2.95"/><circle cx="289.5" cy="446.2" r="2.95"/><circle cx="283.8" cy="451" r="2.95"/><circle cx="279" cy="453.7" r="2.95"/><circle cx="250.5" cy="452.4" r="2.95"/><circle cx="255.8" cy="452.4" r="2.95"/><circle cx="261.9" cy="454.5" r="2.95"/><circle cx="319.4" cy="450" r="2.95"/><circle cx="205" cy="469" r="2.95"/><circle cx="210" cy="468.5" r="2.95"/><circle cx="206" cy="478" r="2.95"/><circle cx="219" cy="479" r="2.95"/><circle cx="226" cy="446" r="2.95"/><circle cx="237" cy="447" r="2.95"/><circle cx="238" cy="452" r="2.95"/><circle cx="229" cy="438.5" r="2.95"/></g><g fill="#0000FF"><circle cx="116.2" cy="459.2" r="2.95"/><circle cx="116" cy="464.7" r="2.95"/><circle cx="110.9" cy="466.5" r="2.95"/><circle cx="103.8" cy="467.6" r="2.95"/><circle cx="103.2" cy="470.9" r="2.95"/><circle cx="112.4" cy="470.2" r="2.95"/><circle cx="111.6" cy="472.4" r="2.95"/><circle cx="115.7" cy="471.6" r="2.95"/><circle cx="116" cy="476.4" r="2.95"/><circle cx="116.4" cy="480" r="2.95"/><circle cx="118.9" cy="485.5" r="2.95"/><circle cx="116.5" cy="490.6" r="2.95"/><circle cx="97.8" cy="475.3" r="2.95"/><circle cx="92.7" cy="478.6" r="2.95"/><circle cx="97.8" cy="482.2" r="2.95"/><circle cx="94.6" cy="486.5" r="2.95"/><circle cx="108.7" cy="482.2" r="2.95"/><circle cx="109.5" cy="488.6" r="2.95"/><circle cx="123.3" cy="466.2" r="2.95"/><circle cx="121.5" cy="472.4" r="2.95"/><circle cx="124.4" cy="475.7" r="2.95"/><circle cx="123.7" cy="478.2" r="2.95"/><circle cx="129.9" cy="466.2" r="2.95"/><circle cx="132.8" cy="467.6" r="2.95"/><circle cx="132.6" cy="466.9" r="2.95"/><circle cx="135.5" cy="466.5" r="2.95"/><circle cx="143.5" cy="457.3" r="2.95"/><circle cx="146.4" cy="460.7" r="2.95"/><circle cx="145" cy="467.3" r="2.95"/><circle cx="147.9" cy="467.3" r="2.95"/><circle cx="153" cy="454.5" r="2.95"/><circle cx="152.6" cy="461.8" r="2.95"/><circle cx="157.6" cy="460.9" r="2.95"/><circle cx="157.4" cy="466.9" r="2.95"/><circle cx="161" cy="466.2" r="2.95"/><circle cx="165" cy="484.4" r="2.95"/><circle cx="172.9" cy="455.2" r="2.95"/><circle cx="171.6" cy="459.2" r="2.95"/><circle cx="137.1" cy="502.8" r="2.95"/><circle cx="103.4" cy="467.7" r="2.95"/><circle cx="113" cy="472" r="2.95"/><circle cx="115" cy="470.7" r="2.95"/></g><g fill="#FF0000"><circle cx="178.73" cy="512.22" r="2.95"/><circle cx="182.37" cy="512.33" r="2.95"/><circle cx="186.23" cy="511.36" r="2.95"/><circle cx="188.52" cy="512.75" r="2.95"/><circle cx="173.67" cy="514.61" r="2.95"/><circle cx="178.39" cy="515.04" r="2.95"/><circle cx="181.51" cy="515.05" r="2.95"/><circle cx="184.55" cy="514.46" r="2.95"/><circle cx="187.94" cy="515.75" r="2.95"/><circle cx="169.04" cy="518.47" r="2.95"/><circle cx="172.71" cy="517.25" r="2.95"/><circle cx="176.26" cy="518.2" r="2.95"/><circle cx="178.84" cy="517.19" r="2.95"/><circle cx="183.26" cy="517.98" r="2.95"/><circle cx="186.39" cy="518.72" r="2.95"/><circle cx="189.79" cy="518.79" r="2.95"/><circle cx="192.61" cy="518.57" r="2.95"/><circle cx="167.2" cy="521.76" r="2.95"/><circle cx="171.38" cy="520.25" r="2.95"/><circle cx="173.44" cy="520.47" r="2.95"/><circle cx="178.34" cy="520.86" r="2.95"/><circle cx="181.13" cy="520.62" r="2.95"/><circle cx="184.31" cy="520.77" r="2.95"/><circle cx="187.43" cy="521.13" r="2.95"/><circle cx="191.25" cy="521.71" r="2.95"/><circle cx="194.83" cy="521.75" r="2.95"/><circle cx="198.54" cy="521.86" r="2.95"/><circle cx="165.91" cy="523.32" r="2.95"/><circle cx="169.65" cy="524.76" r="2.95"/><circle cx="173.13" cy="524.05" r="2.95"/><circle cx="176.18" cy="523.4" r="2.95"/><circle cx="179.8" cy="524.05" r="2.95"/><circle cx="182.21" cy="523.14" r="2.95"/><circle cx="186.64" cy="524.8" r="2.95"/><circle cx="188.66" cy="524.46" r="2.95"/><circle cx="192.64" cy="523.29" r="2.95"/><circle cx="163.53" cy="527.35" r="2.95"/><circle cx="167.97" cy="526.05" r="2.95"/><circle cx="170.91" cy="526.05" r="2.95"/><circle cx="174.49" cy="526.56" r="2.95"/><circle cx="178.19" cy="527.73" r="2.95"/><circle cx="180.91" cy="527.76" r="2.95"/><circle cx="183.96" cy="526.1" r="2.95"/><circle cx="162.38" cy="528.97" r="2.95"/><circle cx="165.06" cy="529.65" r="2.95"/><circle cx="169.2" cy="529.19" r="2.95"/><circle cx="171.58" cy="530.47" r="2.95"/><circle cx="175.46" cy="530.64" r="2.95"/><circle cx="179.91" cy="529.59" r="2.95"/><circle cx="182.53" cy="529.85" r="2.95"/><circle cx="186.26" cy="529.98" r="2.95"/><circle cx="164.01" cy="532.97" r="2.95"/><circle cx="168.09" cy="532.77" r="2.95"/><circle cx="170.58" cy="533.15" r="2.95"/><circle cx="173.63" cy="532.4" r="2.95"/><circle cx="178.36" cy="532.79" r="2.95"/><circle cx="180.99" cy="531.88" r="2.95"/><circle cx="184.15" cy="532.9" r="2.95"/><circle cx="186.84" cy="532.96" r="2.95"/><circle cx="191.34" cy="531.96" r="2.95"/><circle cx="194.73" cy="532.69" r="2.95"/><circle cx="162.52" cy="535.43" r="2.95"/><circle cx="165.97" cy="536.13" r="2.95"/><circle cx="168.14" cy="534.91" r="2.95"/><circle cx="172.72" cy="536.53" r="2.95"/><circle cx="175.35" cy="535.62" r="2.95"/><circle cx="179.37" cy="535.38" r="2.95"/><circle cx="182.36" cy="535.36" r="2.95"/><circle cx="185.76" cy="535.87" r="2.95"/><circle cx="189.04" cy="535.48" r="2.95"/><circle cx="193.29" cy="534.85" r="2.95"/><circle cx="164.02" cy="539.07" r="2.95"/><circle cx="166.96" cy="538.14" r="2.95"/><circle cx="171.25" cy="538.17" r="2.95"/><circle cx="173.54" cy="538.53" r="2.95"/><circle cx="177.86" cy="537.93" r="2.95"/><circle cx="180.58" cy="538.34" r="2.95"/><circle cx="184.9" cy="538.53" r="2.95"/><circle cx="188.34" cy="538.05" r="2.95"/><circle cx="190.81" cy="538.91" r="2.95"/><circle cx="162.89" cy="541.5" r="2.95"/><circle cx="165.11" cy="540.91" r="2.95"/><circle cx="169.05" cy="541.03" r="2.95"/><circle cx="172.95" cy="542.2" r="2.95"/><circle cx="175.23" cy="541.19" r="2.95"/><circle cx="183.15" cy="541.84" r="2.95"/><circle cx="186.55" cy="541.31" r="2.95"/><circle cx="188.73" cy="541.21" r="2.95"/><circle cx="193.33" cy="541.18" r="2.95"/><circle cx="167.02" cy="544.38" r="2.95"/><circle cx="170.56" cy="544.37" r="2.95"/><circle cx="169.76" cy="546.86" r="2.95"/><circle cx="167.1" cy="518.4" r="2.95"/><circle cx="171.9" cy="516" r="2.95"/><circle cx="176.3" cy="513.1" r="2.95"/><circle cx="179.8" cy="509.6" r="2.95"/><circle cx="184.2" cy="509.2" r="2.95"/><circle cx="189.8" cy="510.9" r="2.95"/><circle cx="191.2" cy="515.8" r="2.95"/><circle cx="197.7" cy="518.8" r="2.95"/><circle cx="199.9" cy="521.9" r="2.95"/><circle cx="195.5" cy="523.6" r="2.95"/><circle cx="188" cy="525" r="2.95"/><circle cx="186" cy="528" r="2.95"/><circle cx="193" cy="532.5" r="2.95"/><circle cx="199" cy="530.5" r="2.95"/><circle cx="202.5" cy="528.9" r="2.95"/><circle cx="196.5" cy="533.3" r="2.95"/><circle cx="192.9" cy="538.5" r="2.95"/><circle cx="195.5" cy="544.7" r="2.95"/><circle cx="190.3" cy="543.8" r="2.95"/><circle cx="185" cy="542.9" r="2.95"/><circle cx="178.9" cy="541.2" r="2.95"/><circle cx="172.8" cy="544.2" r="2.95"/><circle cx="170.6" cy="549.9" r="2.95"/><circle cx="166" cy="545" r="2.95"/><circle cx="161.4" cy="543.8" r="2.95"/><circle cx="160.9" cy="538.5" r="2.95"/><circle cx="160.5" cy="528.9" r="2.95"/><circle cx="163.1" cy="522.8" r="2.95"/><circle cx="206.8" cy="494.7" r="2.95"/><circle cx="213.6" cy="497.5" r="2.95"/><circle cx="189.6" cy="498.8" r="2.95"/><circle cx="187.3" cy="504.7" r="2.95"/><circle cx="197.8" cy="504.5" r="2.95"/><circle cx="203.1" cy="510.6" r="2.95"/><circle cx="210.7" cy="515.5" r="2.95"/><circle cx="219.9" cy="522.7" r="2.95"/><circle cx="211.5" cy="531.9" r="2.95"/><circle cx="200.4" cy="537.3" r="2.95"/><circle cx="154.9" cy="533.3" r="2.95"/><circle cx="196.1" cy="545" r="2.95"/><circle cx="190.6" cy="543.9" r="2.95"/><circle cx="211.2" cy="548.3" r="2.95"/><circle cx="186.1" cy="552.2" r="2.95"/><circle cx="188.7" cy="560.9" r="2.95"/><circle cx="200.6" cy="561.7" r="2.95"/><circle cx="207.3" cy="559.5" r="2.95"/><circle cx="206.7" cy="562.8" r="2.95"/><circle cx="210.6" cy="562.8" r="2.95"/><circle cx="213.4" cy="562.3" r="2.95"/><circle cx="216.7" cy="563.2" r="2.95"/><circle cx="202.8" cy="568.7" r="2.95"/><circle cx="214.5" cy="568.4" r="2.95"/><circle cx="194.5" cy="570.3" r="2.95"/><circle cx="219.5" cy="572.3" r="2.95"/><circle cx="219.5" cy="575.1" r="2.95"/><circle cx="230.3" cy="572.8" r="2.95"/><circle cx="206.7" cy="576.7" r="2.95"/><circle cx="211.7" cy="575.6" r="2.95"/><circle cx="210.6" cy="579" r="2.95"/><circle cx="210.1" cy="582.3" r="2.95"/><circle cx="197.3" cy="581.4" r="2.95"/><circle cx="229.9" cy="587.6" r="2.95"/><circle cx="230.3" cy="594" r="2.95"/><circle cx="220.6" cy="609.9" r="2.95"/><circle cx="226.8" cy="610.4" r="2.95"/><circle cx="203.2" cy="529.3" r="2.95"/><circle cx="198" cy="519.4" r="2.95"/><circle cx="199.9" cy="522" r="2.95"/></g><g fill="#006400"><circle cx="287.36" cy="521.97" r="2.95"/><circle cx="297.77" cy="521.69" r="2.95"/><circle cx="305.52" cy="522.06" r="2.95"/><circle cx="313.55" cy="521.83" r="2.95"/><circle cx="323.89" cy="522.67" r="2.95"/><circle cx="290.78" cy="529" r="2.95"/><circle cx="299.77" cy="530.52" r="2.95"/><circle cx="310.58" cy="528.21" r="2.95"/><circle cx="320.45" cy="530.98" r="2.95"/><circle cx="296.96" cy="537.73" r="2.95"/><circle cx="304.47" cy="535.93" r="2.95"/><circle cx="314.59" cy="536.06" r="2.95"/><circle cx="300.07" cy="544.4" r="2.95"/><circle cx="308.59" cy="545.07" r="2.95"/><circle cx="305.32" cy="554" r="2.95"/><circle cx="314.56" cy="553.39" r="2.95"/><circle cx="301" cy="561.25" r="2.95"/><circle cx="309.87" cy="560.1" r="2.95"/><circle cx="306.99" cy="570.05" r="2.95"/><circle cx="284" cy="517" r="2.95"/><circle cx="292" cy="514" r="2.95"/><circle cx="300" cy="516" r="2.95"/><circle cx="308" cy="517" r="2.95"/><circle cx="316" cy="517" r="2.95"/><circle cx="323" cy="519" r="2.95"/><circle cx="328" cy="524" r="2.95"/><circle cx="325" cy="531" r="2.95"/><circle cx="319" cy="536" r="2.95"/><circle cx="318" cy="545" r="2.95"/><circle cx="317" cy="552" r="2.95"/><circle cx="315" cy="560" r="2.95"/><circle cx="312" cy="568" r="2.95"/><circle cx="309" cy="574" r="2.95"/><circle cx="305" cy="574" r="2.95"/><circle cx="302" cy="566" r="2.95"/><circle cx="300" cy="558" r="2.95"/><circle cx="297" cy="551" r="2.95"/><circle cx="294" cy="545" r="2.95"/><circle cx="290" cy="539" r="2.95"/><circle cx="286" cy="532" r="2.95"/><circle cx="283" cy="525" r="2.95"/><circle cx="291" cy="483.1" r="2.95"/><circle cx="303.5" cy="485.8" r="2.95"/><circle cx="306.7" cy="492.4" r="2.95"/><circle cx="297.6" cy="494.3" r="2.95"/><circle cx="293" cy="497.4" r="2.95"/><circle cx="328.3" cy="501.3" r="2.95"/><circle cx="304.6" cy="503.9" r="2.95"/><circle cx="300" cy="506.4" r="2.95"/><circle cx="310.5" cy="509.5" r="2.95"/><circle cx="316.3" cy="508" r="2.95"/><circle cx="322.2" cy="511.5" r="2.95"/><circle cx="326.8" cy="513.2" r="2.95"/><circle cx="330.9" cy="508.5" r="2.95"/><circle cx="326.2" cy="516.1" r="2.95"/><circle cx="288.3" cy="511.1" r="2.95"/><circle cx="284.8" cy="515.3" r="2.95"/><circle cx="291.8" cy="516.7" r="2.95"/><circle cx="273.7" cy="521.2" r="2.95"/><circle cx="274.6" cy="527.2" r="2.95"/><circle cx="274.6" cy="530.7" r="2.95"/><circle cx="281.9" cy="525.5" r="2.95"/><circle cx="276" cy="543.3" r="2.95"/><circle cx="333.8" cy="531.9" r="2.95"/><circle cx="333.8" cy="545.3" r="2.95"/><circle cx="321.6" cy="518.5" r="2.95"/><circle cx="288.1" cy="511.1" r="2.95"/><circle cx="284.6" cy="515.5" r="2.95"/><circle cx="292" cy="516.4" r="2.95"/><circle cx="281.5" cy="525.6" r="2.95"/><circle cx="286.8" cy="523.4" r="2.95"/><circle cx="291.1" cy="521.6" r="2.95"/><circle cx="295.5" cy="519.9" r="2.95"/><circle cx="296.4" cy="526" r="2.95"/><circle cx="287.6" cy="531.3" r="2.95"/><circle cx="290.3" cy="535.6" r="2.95"/><circle cx="288.5" cy="542.7" r="2.95"/><circle cx="297.3" cy="539.2" r="2.95"/><circle cx="295.5" cy="552.7" r="2.95"/><circle cx="299.5" cy="561" r="2.95"/><circle cx="299.9" cy="556.7" r="2.95"/><circle cx="306" cy="519" r="2.95"/><circle cx="314.8" cy="519" r="2.95"/><circle cx="320.9" cy="518.6" r="2.95"/><circle cx="310.4" cy="509.4" r="2.95"/><circle cx="315.7" cy="508.1" r="2.95"/><circle cx="321.8" cy="511.6" r="2.95"/><circle cx="326.2" cy="513.8" r="2.95"/><circle cx="330.5" cy="508.5" r="2.95"/><circle cx="327" cy="516" r="2.95"/><circle cx="325.3" cy="523.8" r="2.95"/><circle cx="327.9" cy="527.8" r="2.95"/><circle cx="334" cy="531.7" r="2.95"/><circle cx="334" cy="545.3" r="2.95"/><circle cx="321.8" cy="531.3" r="2.95"/><circle cx="317.4" cy="526.9" r="2.95"/><circle cx="302.5" cy="530.4" r="2.95"/><circle cx="307.8" cy="529.5" r="2.95"/><circle cx="312.2" cy="528.6" r="2.95"/><circle cx="301.6" cy="533.9" r="2.95"/><circle cx="305.1" cy="535.6" r="2.95"/><circle cx="317.4" cy="538.3" r="2.95"/><circle cx="318.3" cy="541.8" r="2.95"/><circle cx="313" cy="545.3" r="2.95"/><circle cx="315.7" cy="544.4" r="2.95"/><circle cx="304.3" cy="541.8" r="2.95"/><circle cx="306.9" cy="543.5" r="2.95"/><circle cx="308.6" cy="548.8" r="2.95"/><circle cx="316.5" cy="550.5" r="2.95"/><circle cx="309.5" cy="554" r="2.95"/><circle cx="314.8" cy="554.9" r="2.95"/><circle cx="308.6" cy="559.3" r="2.95"/><circle cx="313" cy="561" r="2.95"/><circle cx="319.2" cy="559.3" r="2.95"/><circle cx="299" cy="546.2" r="2.95"/><circle cx="301.6" cy="545.3" r="2.95"/><circle cx="299.9" cy="506.8" r="2.95"/><circle cx="304.3" cy="505.9" r="2.95"/><circle cx="278" cy="542.7" r="2.95"/><circle cx="274.9" cy="531.4" r="2.95"/><circle cx="286.5" cy="531.8" r="2.95"/><circle cx="290" cy="535.8" r="2.95"/><circle cx="276" cy="542.8" r="2.95"/><circle cx="288.9" cy="542.8" r="2.95"/><circle cx="270.2" cy="556.6" r="2.95"/><circle cx="297.6" cy="539.1" r="2.95"/><circle cx="295.3" cy="552.8" r="2.95"/><circle cx="299.4" cy="560.4" r="2.95"/><circle cx="300.5" cy="568" r="2.95"/><circle cx="294.1" cy="576.1" r="2.95"/><circle cx="301.1" cy="575" r="2.95"/><circle cx="319.2" cy="559.2" r="2.95"/><circle cx="321.6" cy="567.4" r="2.95"/><circle cx="315.1" cy="577.3" r="2.95"/><circle cx="308.1" cy="582.6" r="2.95"/><circle cx="306.4" cy="590.7" r="2.95"/><circle cx="312.2" cy="591.3" r="2.95"/><circle cx="318.1" cy="587.8" r="2.95"/><circle cx="319.8" cy="593.6" r="2.95"/><circle cx="315.7" cy="597.2" r="2.95"/><circle cx="312.2" cy="603" r="2.95"/><circle cx="316.3" cy="605.3" r="2.95"/><circle cx="333.8" cy="545.2" r="2.95"/><circle cx="333.2" cy="531.8" r="2.95"/><circle cx="342.4" cy="647.5" r="2.95"/><circle cx="249.6" cy="519.7" r="2.95"/><circle cx="273.5" cy="521.1" r="2.95"/><circle cx="274.1" cy="528.4" r="2.95"/><circle cx="295.7" cy="553" r="2.95"/><circle cx="299.5" cy="556.1" r="2.95"/><circle cx="299.5" cy="561.1" r="2.95"/><circle cx="301.1" cy="568" r="2.95"/><circle cx="301.1" cy="574.8" r="2.95"/><circle cx="294" cy="576.4" r="2.95"/><circle cx="315.2" cy="577.5" r="2.95"/><circle cx="321.7" cy="567.2" r="2.95"/><circle cx="319" cy="559.2" r="2.95"/><circle cx="316.8" cy="551.1" r="2.95"/><circle cx="308" cy="560.3" r="2.95"/><circle cx="310.2" cy="558" r="2.95"/><circle cx="313.3" cy="560.3" r="2.95"/><circle cx="314.8" cy="562.6" r="2.95"/><circle cx="307.2" cy="564.9" r="2.95"/><circle cx="310.2" cy="566.4" r="2.95"/><circle cx="306.4" cy="570.2" r="2.95"/><circle cx="304.9" cy="572.5" r="2.95"/><circle cx="308.7" cy="572.5" r="2.95"/><circle cx="307.2" cy="581" r="2.95"/><circle cx="309.5" cy="581" r="2.95"/><circle cx="307.2" cy="585.6" r="2.95"/><circle cx="305.7" cy="590.9" r="2.95"/><circle cx="311.8" cy="591.7" r="2.95"/><circle cx="317.9" cy="587.8" r="2.95"/><circle cx="320.2" cy="594" r="2.95"/><circle cx="316.4" cy="597.8" r="2.95"/><circle cx="311" cy="552.7" r="2.95"/><circle cx="315.6" cy="554.2" r="2.95"/><circle cx="302.6" cy="548.8" r="2.95"/><circle cx="307.2" cy="549.6" r="2.95"/><circle cx="313.3" cy="548.1" r="2.95"/><circle cx="289.6" cy="545" r="2.95"/><circle cx="310" cy="537" r="2.95"/><circle cx="313" cy="533" r="2.95"/><circle cx="309" cy="542" r="2.95"/><circle cx="303" cy="524" r="2.95"/><circle cx="310" cy="523" r="2.95"/><circle cx="300" cy="520" r="2.95"/><circle cx="286" cy="519" r="2.95"/><circle cx="283" cy="521" r="2.95"/></g><g fill="#FFD700"><circle cx="426.1" cy="467.5" r="2.95"/><circle cx="431" cy="470.8" r="2.95"/><circle cx="425.1" cy="479.5" r="2.95"/><circle cx="430.7" cy="491.3" r="2.95"/><circle cx="438.4" cy="496.9" r="2.95"/><circle cx="428.7" cy="505.1" r="2.95"/><circle cx="428.2" cy="511.4" r="2.95"/><circle cx="430.7" cy="517.8" r="2.95"/><circle cx="429.7" cy="519.4" r="2.95"/><circle cx="419.5" cy="495.5" r="2.95"/><circle cx="441.7" cy="536.5" r="2.95"/><circle cx="451.1" cy="534.9" r="2.95"/><circle cx="436.3" cy="546.4" r="2.95"/><circle cx="430" cy="552.1" r="2.95"/><circle cx="451.1" cy="544.8" r="2.95"/><circle cx="461" cy="544.3" r="2.95"/><circle cx="470.9" cy="545.3" r="2.95"/><circle cx="468.8" cy="549" r="2.95"/><circle cx="426.6" cy="565" r="2.95"/><circle cx="448.8" cy="565.2" r="2.95"/><circle cx="442.2" cy="567.3" r="2.95"/><circle cx="432.8" cy="573.5" r="2.95"/><circle cx="426.6" cy="584.7" r="2.95"/><circle cx="457.9" cy="585" r="2.95"/><circle cx="433.1" cy="589.7" r="2.95"/><circle cx="433.1" cy="595.1" r="2.95"/><circle cx="451.6" cy="593" r="2.95"/></g><g fill="#FFA500"><circle cx="366.6" cy="475.6" r="2.95"/><circle cx="382.4" cy="480.1" r="2.95"/><circle cx="394.6" cy="474.9" r="2.95"/><circle cx="385.5" cy="491.9" r="2.95"/><circle cx="394" cy="495" r="2.95"/><circle cx="399.1" cy="490.5" r="2.95"/><circle cx="387.3" cy="505.2" r="2.95"/><circle cx="390.2" cy="510.1" r="2.95"/><circle cx="392.8" cy="513" r="2.95"/><circle cx="400.6" cy="507.9" r="2.95"/><circle cx="402.9" cy="506.8" r="2.95"/><circle cx="400.6" cy="515.9" r="2.95"/><circle cx="409.5" cy="520.1" r="2.95"/><circle cx="411.8" cy="522.4" r="2.95"/><circle cx="412.4" cy="526.1" r="2.95"/><circle cx="402.9" cy="538.6" r="2.95"/><circle cx="424" cy="506.8" r="2.95"/><circle cx="432.5" cy="539" r="2.95"/><circle cx="396.2" cy="555.1" r="2.95"/><circle cx="398" cy="561.3" r="2.95"/><circle cx="389.1" cy="568.2" r="2.95"/><circle cx="441.8" cy="569.1" r="2.95"/></g><rect x="492.1" y="370.8" width="178.6" height="126.6" fill="#fff" stroke="#222" stroke-width="1.1"/><circle cx="503.8" cy="386.6" r="3.7" fill="#FF0000"/><text x="515.4" y="391.3" font-size="13.3">Cow</text><circle cx="503.8" cy="402.63" r="3.7" fill="#FFA500"/><text x="515.4" y="407.33" font-size="13.3">Freshwater (after rain)</text><circle cx="503.8" cy="418.66" r="3.7" fill="#FFD700"/><text x="515.4" y="423.36" font-size="13.3">Freshwater (before rain)</text><circle cx="503.8" cy="434.69" r="3.7" fill="#0000FF"/><text x="515.4" y="439.39" font-size="13.3">Horse</text><circle cx="503.8" cy="450.72" r="3.7" fill="#ADD8E6"/><text x="515.4" y="455.42" font-size="13.3">Human</text><circle cx="503.8" cy="466.75" r="3.7" fill="#00FF00"/><text x="515.4" y="471.45" font-size="13.3">Pig</text><circle cx="503.8" cy="482.78" r="3.7" fill="#006400"/><text x="515.4" y="487.48" font-size="13.3">Poultry</text></g></svg>
</body></html>
